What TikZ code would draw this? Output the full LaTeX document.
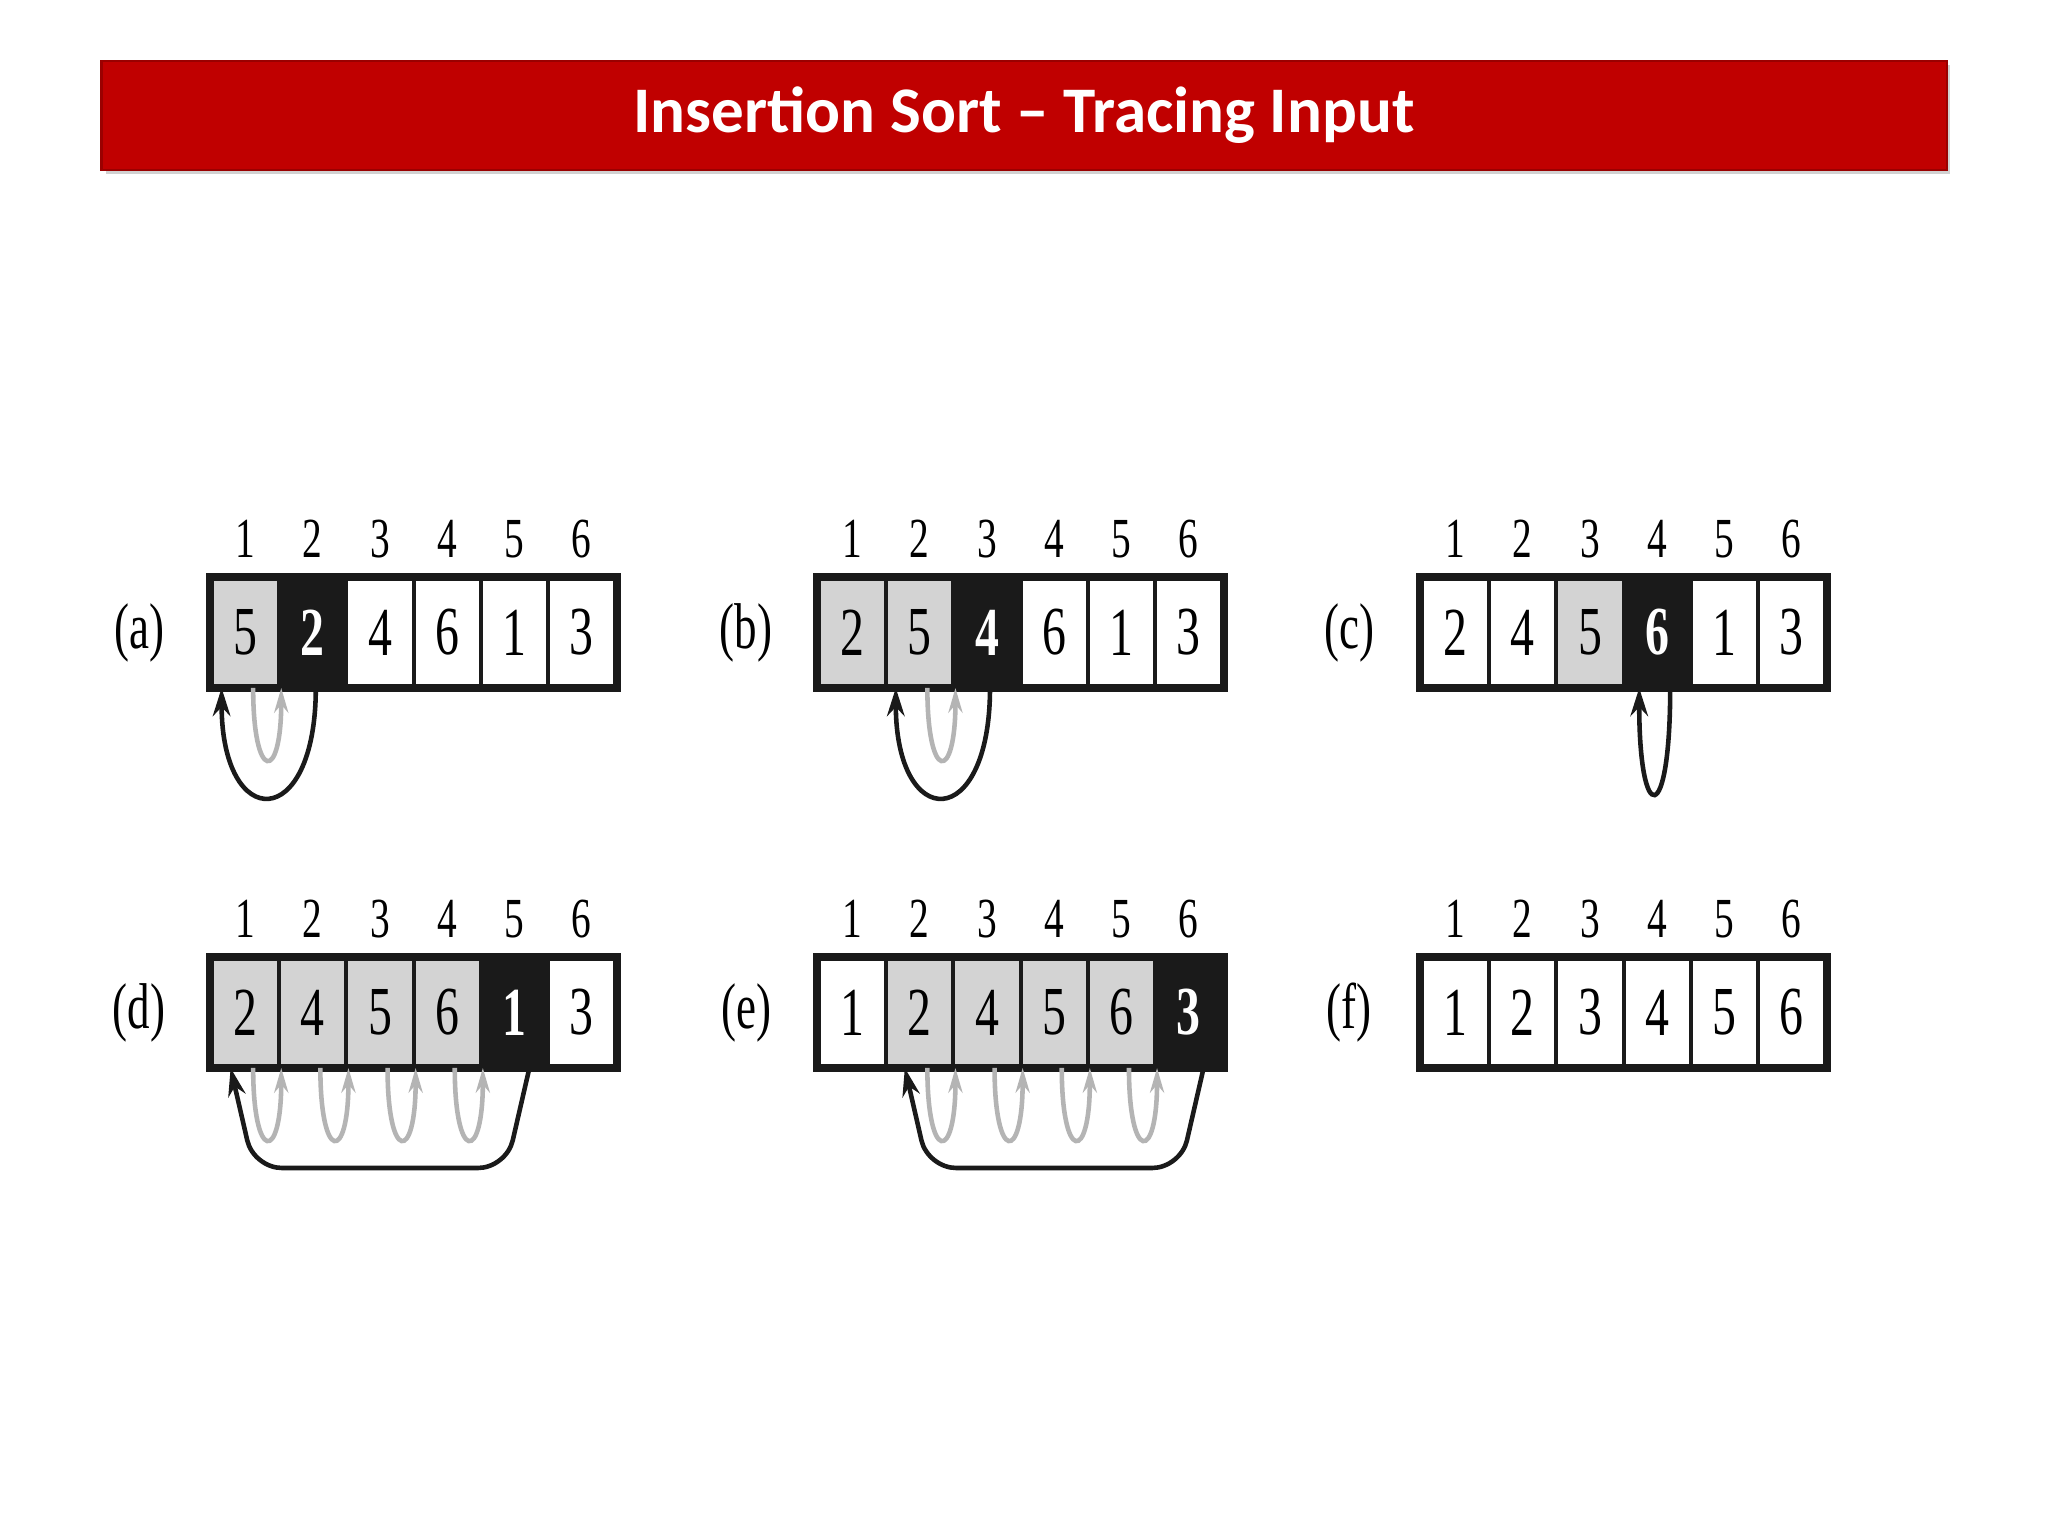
\documentclass[tikz,border=0pt]{standalone}
\usepackage{fontspec}
\setmainfont{Liberation Serif}
\newfontfamily\titlefont{Carlito}
\usetikzlibrary{calc,arrows.meta}
\definecolor{hdr}{HTML}{C00000}
\definecolor{cellgray}{HTML}{D3D3D3}
\definecolor{cellblack}{HTML}{1A1A1A}
\definecolor{arrgray}{HTML}{B4B4B4}
\tikzset{
  cell/.style={draw=cellblack,line width=1.1pt,minimum width=0.672cm,minimum height=1.07cm,inner sep=0pt,font=\fontsize{17}{17}\selectfont},
  cw/.style={fill=white},
  cg/.style={fill=cellgray},
  ck/.style={fill=cellblack,text=white,font=\fontsize{17}{17}\selectfont\bfseries},
  idx/.style={font=\fontsize{14}{14}\selectfont,inner sep=0pt},
  lab/.style={font=\fontsize{16}{16}\selectfont,inner sep=0pt},
  grayarr/.style={draw=arrgray,line width=1.3pt,-{Stealth[length=7pt,width=4pt]}},
  blackarr/.style={draw=cellblack,line width=1.3pt,-{Stealth[length=8pt,width=5pt]}},
}
\newcommand\drawpanel[5]{%
  \foreach \v/\t [count=\i] in {#5} {
    \node[cell,\t] (#1-\i) at ({#2+(\i-0.5)*67.2},{#3+53.5}) {\scalebox{0.8}[1.15]{\v}};
    \node[idx] (#1-n\i) at ($(#1-\i.north)+(0,-38)$) {\scalebox{0.8}[1.15]{\i}};
  }
  \draw[cellblack,line width=2.2pt] (#1-1.north west) rectangle (#1-6.south east);
  \node[lab] (#1-lab) at ($(#1-1.west)+(-71,0)$) {\scalebox{0.8}[1.15]{(#4)}};
}
\newcommand\grayloop[3]{% panel, k, k+1
  \draw[grayarr] ($(#1-#2.south east)+(-28,0)$) .. controls +(0,95) and +(0,95) .. ($(#1-#3.south west)+(4,0)$);
}
\begin{document}
\begin{tikzpicture}[x=0.01cm,y=-0.01cm]
\fill[white] (0,0) rectangle (2048,1536);
\fill[black!18] (106,65) rectangle (1950,174);
\node[fill=hdr,draw=hdr!80!black,line width=0.6pt,minimum width=18.44cm,minimum height=1.09cm,inner sep=0pt,text=white,font=\titlefont\fontsize{18.5}{18.5}\selectfont\bfseries] (title) at (1024,115.5) {Insertion Sort – Tracing Input};

\drawpanel{a}{212}{579}{a}{5/cg,2/ck,4/cw,6/cw,1/cw,3/cw}
\drawpanel{b}{819}{579}{b}{2/cg,5/cg,4/ck,6/cw,1/cw,3/cw}
\drawpanel{c}{1422}{579}{c}{2/cw,4/cw,5/cg,6/ck,1/cw,3/cw}
\drawpanel{d}{212}{959}{d}{2/cg,4/cg,5/cg,6/cg,1/ck,3/cw}
\drawpanel{e}{819}{959}{e}{1/cw,2/cg,4/cg,5/cg,6/cg,3/ck}
\drawpanel{f}{1422}{959}{f}{1/cw,2/cw,3/cw,4/cw,5/cw,6/cw}

% (a)
\grayloop{a}{1}{2}
\draw[blackarr] ($(a-2.south)+(3,0)$) .. controls +(0,145) and +(0,145) .. ($(a-1.south)+(-24,0)$);
% (b)
\grayloop{b}{2}{3}
\draw[blackarr] ($(b-3.south)+(3,0)$) .. controls +(0,145) and +(0,145) .. ($(b-2.south)+(-24,0)$);
% (c)
\draw[blackarr] ($(c-4.south)+(13,0)$) .. controls +(0,140) and +(0,140) .. ($(c-4.south)+(-18,0)$);
% (d)
\foreach \k/\kk in {1/2,2/3,3/4,4/5} {\grayloop{d}{\k}{\kk}}
\draw[blackarr,rounded corners=8pt] ($(d-5.south)+(15,0)$) -- ($(d-5.south)+(-8,100)$) -- ($(d-1.south)+(8,100)$) -- ($(d-1.south)+(-15,0)$);
% (e)
\foreach \k/\kk in {2/3,3/4,4/5,5/6} {\grayloop{e}{\k}{\kk}}
\draw[blackarr,rounded corners=8pt] ($(e-6.south)+(15,0)$) -- ($(e-6.south)+(-8,100)$) -- ($(e-2.south)+(8,100)$) -- ($(e-2.south)+(-15,0)$);
\end{tikzpicture}
\end{document}
